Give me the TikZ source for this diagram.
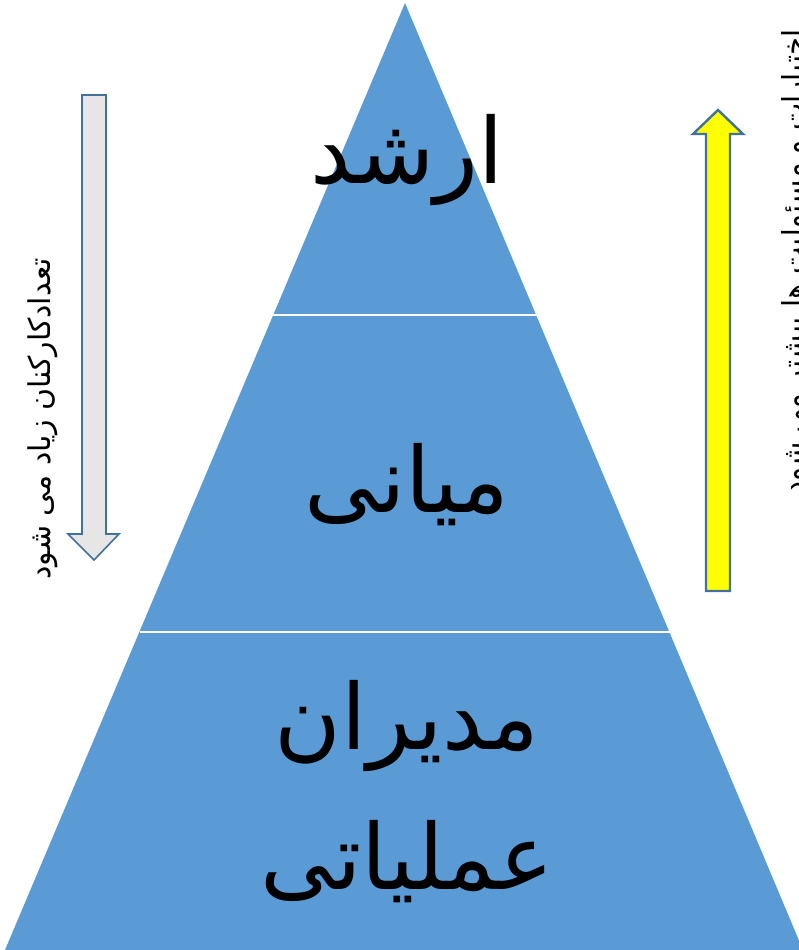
\documentclass[tikz,border=0pt]{standalone}
\usepackage{fontspec}
\TeXXeTstate=1
\newfontfamily\arabicfont[Script=Arabic]{DejaVu Sans}
\definecolor{pyrblue}{HTML}{5B9BD5}
\definecolor{arrowedge}{HTML}{41719C}
\definecolor{grayfill}{HTML}{E7E6E6}
\definecolor{yellowfill}{HTML}{FFFF00}
\tikzset{
  levellabel/.style={inner sep=0pt, align=center, font=\fontsize{91}{140}\arabicfont},
  sidelabel/.style={inner sep=0pt, rotate=90, font=\fontsize{30}{32}\arabicfont},
  arrowline/.style={draw=arrowedge, line join=miter},
  divider/.style={draw=white, line width=1.5pt}
}
\begin{document}
\begin{tikzpicture}[x=1pt,y=-1pt]
\useasboundingbox (0,0) rectangle (799,950);
\clip (0,0) rectangle (799,950);
% pyramid
\fill[pyrblue] (405,3) -- (5,950) -- (803,950) -- cycle;
\path[divider] (273,315) -- (538,315);
\path[divider] (140,632) -- (670,632);
% left down arrow
\path[arrowline, line width=1.6pt, fill=grayfill] (82,95) -- (106,95) -- (106,534) -- (119,534) -- (94,560) -- (68,534) -- (82,534) -- cycle;
% right up arrow
\path[arrowline, line width=2.4pt, fill=yellowfill] (706,591) -- (730,591) -- (730,134) -- (743,134) -- (718,110) -- (693,134) -- (706,134) -- cycle;
% level labels
\node[levellabel] (top) at (407,160) {\beginR ارشد\endR};
\node[levellabel] (mid) at (407,485) {\beginR میانی\endR};
\node[levellabel] (low) at (407,792) {\beginR مدیران\endR\\\beginR عملیاتی\endR};
% side labels
\node[sidelabel] (lefttext) at (43,419) {\beginR تعدادکارکنان زیاد می شود\endR};
\node[sidelabel, font=\fontsize{29}{31}\arabicfont] (righttext) at (796,262) {\beginR اختیارات و مسئولیت ها بیشتر می شود\endR};
\end{tikzpicture}
\end{document}
